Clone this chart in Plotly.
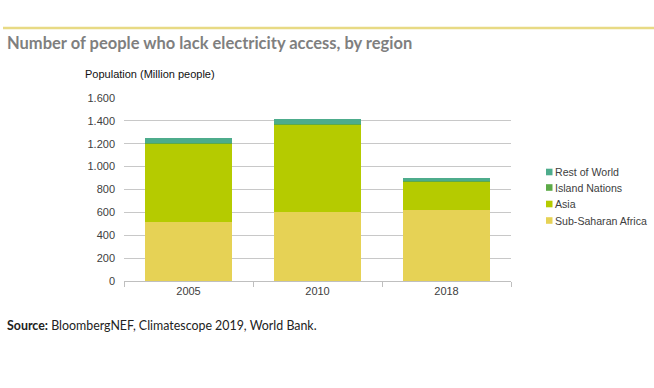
import plotly.graph_objects as go

years = ["2005", "2010", "2018"]
ssa = [517, 601, 618]
asia = [688, 764, 253]
island = [4, 4, 4]
rest = [45, 46, 25]
series_names = ["Sub-Saharan Africa", "Asia", "Island Nations", "Rest of World"]
series_colors = ["#E6D255", "#B5CB00", "#5DAA48", "#4DAC8C"]
y_ticks = [0, 200, 400, 600, 800, 1000, 1200, 1400, 1600]

W, H = 654, 388
L, R, T, B = 124, 511, 98, 281

def px(x):
    return (x - L) / (R - L)

def py(y):
    return (B - y) / (B - T)

fig = go.Figure()
for name, vals, col in zip(series_names, [ssa, asia, island, rest], series_colors):
    fig.add_trace(go.Bar(x=years, y=vals, name=name, showlegend=False,
                         marker=dict(color=col, line=dict(width=0))))

shapes = [dict(type="line", xref="paper", yref="paper", x0=px(3), x1=px(654),
               y0=py(28), y1=py(28), line=dict(color="#E8DA84", width=2.5))]
annotations = [
    dict(text="<b>Number of people who lack electricity access, by region</b>",
         xref="paper", yref="paper", x=px(5), y=py(43), xanchor="left", yanchor="middle",
         showarrow=False, font=dict(family="Lato", size=16.5, color="#7f7f7f")),
    dict(text="Population (Million people)", xref="paper", yref="paper",
         x=px(83), y=py(74), xanchor="left", yanchor="middle", showarrow=False,
         font=dict(family="Liberation Sans", size=11, color="#111111")),
    dict(text="<b>Source:</b> BloombergNEF, Climatescope 2019, World Bank.",
         xref="paper", yref="paper", x=px(5), y=py(325), xanchor="left", yanchor="middle",
         showarrow=False, font=dict(family="Lato", size=12.4, color="#222222")),
]

# legend (top to bottom: reversed series order)
legend_y = [172, 187.5, 204, 220.5]
for i, (name, col) in enumerate(zip(series_names[::-1], series_colors[::-1])):
    yc = legend_y[i]
    shapes.append(dict(type="rect", xref="paper", yref="paper", x0=px(546), x1=px(552.5),
                       y0=py(yc - 3.3), y1=py(yc + 3.3), fillcolor=col, line=dict(width=0)))
    annotations.append(dict(text=name, xref="paper", yref="paper", x=px(553), y=py(yc),
                            xanchor="left", yanchor="middle", showarrow=False,
                            font=dict(family="Liberation Sans", size=10.6, color="#404040")))

fig.update_layout(
    width=W, height=H,
    margin=dict(l=L, r=W - R, t=T, b=H - B, pad=0, autoexpand=False),
    barmode="stack", bargap=0.333,
    plot_bgcolor="white", paper_bgcolor="white",
    separators=",.",
    font=dict(family="Liberation Sans", size=11, color="#404040"),
    showlegend=False,
    xaxis=dict(showline=True, linecolor="#bfbfbf", linewidth=1, ticks="outside",
               tickson="boundaries", ticklen=5, tickcolor="#bfbfbf",
               tickfont=dict(size=11, color="#404040")),
    yaxis=dict(range=[0, 1600], tickvals=y_ticks, tickformat=",d", showgrid=True,
               gridcolor="#c8c8c8", gridwidth=1, zeroline=False, showline=False,
               ticks="", ticklabelstandoff=8, tickfont=dict(size=11, color="#404040")),
    shapes=shapes,
    annotations=annotations,
)

fig.write_html("out.html", config={"displayModeBar": False},
               post_script="document.body.style.margin='0px';")
